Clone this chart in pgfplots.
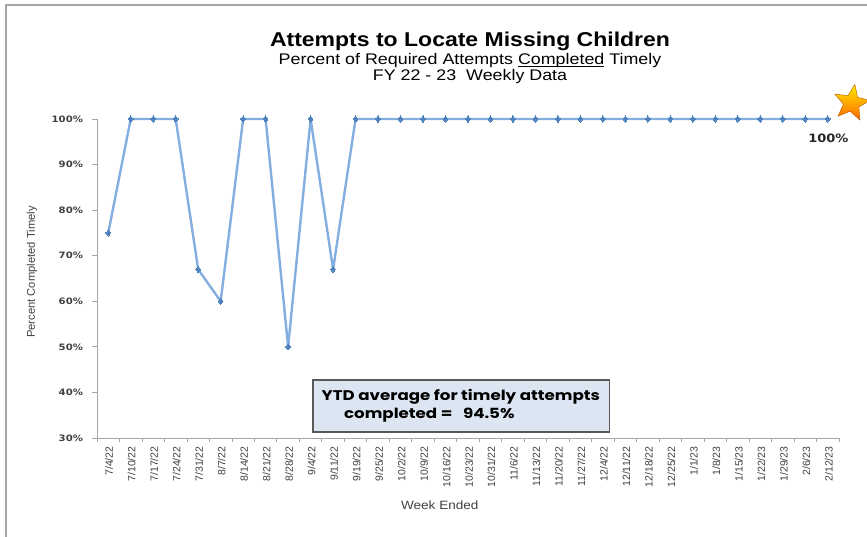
\documentclass[border=0pt]{standalone}
\usepackage{pgfplots}
\pgfplotsset{compat=1.18}
\usepackage{fontspec}
\setmainfont{Liberation Sans}
\newfontfamily\gothic{Poppins}
\newfontfamily\dejavu{DejaVu Sans}
\usetikzlibrary{shapes.geometric}
\definecolor{linecol}{HTML}{84AEE0}
\definecolor{markcol}{HTML}{4F81BD}
\definecolor{axcol}{HTML}{A6A6A6}
\definecolor{boxfill}{HTML}{DCE6F2}
\definecolor{txtgray}{HTML}{404040}
\newcommand\myul[1]{\setbox0\hbox{#1}\rlap{\rule[-2.2pt]{\wd0}{0.8pt}}\box0}
\begin{document}
\begin{tikzpicture}
\useasboundingbox (0pt,0pt) rectangle (867pt,537pt);
\draw[axcol, line width=2.5pt] (6pt,-5pt) -- (6pt,532pt) -- (880pt,532pt);
\node[font=\bfseries\fontsize{20}{22}\selectfont, xscale=1.15] at (470pt,496pt) {Attempts to Locate Missing Children};
\node[font=\fontsize{15.4}{17}\selectfont, xscale=1.16] at (470pt,476.5pt) {Percent of Required Attempts \myul{Completed}~Timely};
\node[font=\fontsize{15.4}{17}\selectfont, xscale=1.16] at (470pt,460pt) {FY 22 - 23\ \ Weekly Data};
\begin{axis}[at={(97pt,99pt)}, anchor=south west, scale only axis,
  width=742pt, height=319pt,
  xmin=-0.5, xmax=32.5, ymin=30, ymax=100,
  clip=false,
  axis x line=bottom, axis y line=left,
  axis line style={-, axcol, line width=0.8pt},
  xtick={0,...,32},
  xticklabels={7/4/22,7/10/22,7/17/22,7/24/22,7/31/22,8/7/22,8/14/22,8/21/22,8/28/22,9/4/22,9/11/22,9/19/22,9/25/22,10/2/22,10/9/22,10/16/22,10/23/22,10/31/22,11/6/22,11/13/22,11/20/22,11/27/22,12/4/22,12/11/22,12/18/22,12/25/22,1/1/23,1/8/23,1/15/23,1/22/23,1/29/23,2/6/23,2/12/23},
  major x tick style={draw=none},
  minor xtick={-0.5,0.5,...,32.5},
  minor x tick style={axcol, line width=0.8pt},
  minor tick length=4pt,
  tick align=outside,
  xticklabel style={rotate=90, anchor=east, font=\fontsize{10.5}{12}\selectfont, text=txtgray, yshift=-1pt},
  ytick={30,40,...,100},
  yticklabels={30\%,40\%,50\%,60\%,70\%,80\%,90\%,100\%},
  major y tick style={axcol, line width=0.8pt},
  major tick length=5pt,
  yticklabel style={font=\dejavu\bfseries\fontsize{8.8}{10}\selectfont, text=txtgray, xshift=-5pt, xscale=1.15},
  ylabel={Percent Completed Timely},
  ylabel style={at={(axis description cs:-0.0876,0.52)}, anchor=center, font=\fontsize{11.2}{13}\selectfont, text=txtgray},
  xlabel={Week Ended},
  xlabel style={at={(axis description cs:0.462,-0.21)}, anchor=center, font=\fontsize{12}{14}\selectfont, text=txtgray, xscale=1.13},
]
\addplot[linecol, line width=2.4pt, line join=round, mark=diamond*, mark size=3.1pt, mark options={markcol, solid, line width=0pt}] coordinates {
(0,75) (1,100) (2,100) (3,100) (4,67) (5,60) (6,100) (7,100) (8,50) (9,100) (10,67) (11,100) (12,100) (13,100) (14,100) (15,100) (16,100) (17,100) (18,100) (19,100) (20,100) (21,100) (22,100) (23,100) (24,100) (25,100) (26,100) (27,100) (28,100) (29,100) (30,100) (31,100) (32,100)
};
\draw[fill=boxfill, draw=gray!70!black, line width=1.5pt] (axis cs:9.1,31.3) rectangle (axis cs:22.3,42.7);
\node[font=\gothic\bfseries\fontsize{14}{16}\selectfont, xscale=1.19] at (axis cs:15.68,39.0) {YTD average for timely attempts};
\node[font=\gothic\bfseries\fontsize{14}{16}\selectfont, anchor=west, inner sep=0pt, xscale=1.19] at (axis cs:10.48,35.05) {completed =\ \ \ 94.5\%};
\node[font=\dejavu\bfseries\fontsize{11.5}{13}\selectfont, text=black!85, xscale=1.13] at (axis cs:32.03,95.83) {100\%};
\node[star, star points=5, star point ratio=2.3, minimum size=38pt, inner sep=0pt, rotate=-10,
  top color=yellow!85!orange, bottom color=orange!80!red, draw=orange!70!black, line width=0.4pt] at (axis cs:33.06,103.5) {};
\end{axis}
\end{tikzpicture}
\end{document}
